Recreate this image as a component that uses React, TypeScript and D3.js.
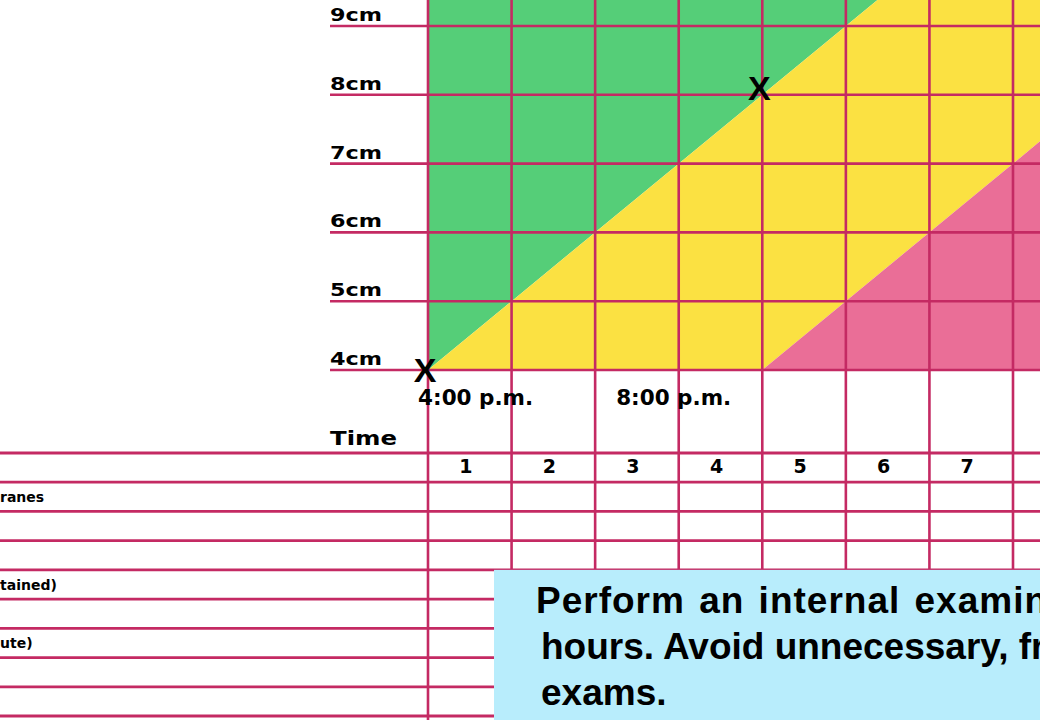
import React from "react";
import * as d3 from "d3";

const WIDTH = 1040;
const HEIGHT = 720;

// partograph data
const HOUR_GRID = [0, 1, 2, 3, 4, 5, 6, 7];
const HOUR_LABELS = ["1", "2", "3", "4", "5", "6", "7"];
const DILATION_CM = [4, 5, 6, 7, 8, 9];
const ALERT_LINE: [number, number][] = [[0, 4], [6, 10]];
const ACTION_LINE: [number, number][] = [[4, 4], [10, 10]];
const EXAM_HOURS = [0, 4];
const EXAM_CM = [4, 8.1];
const CLOCK_HOURS = [0.57, 2.94];
const CLOCK_LABELS = ["4:00 p.m.", "8:00 p.m."];
const ROW_LABELS = ["", "ranes", "", "", "tained)", "", "ute)", "", ""];
const NOTE_LINES = [
  "Perform an internal examination every 4",
  "hours. Avoid unnecessary, frequent",
  "exams.",
];

const GRID = "#c42a63";
const GREEN = "#55ce78";
const YELLOW = "#fbe142";
const PINK = "#ea6e97";
const NOTE_BG = "#b8edfc";

const App = () => {
  const x = d3.scaleLinear().domain([0, 7]).range([428, 1013]);
  const y = d3.scaleLinear().domain([4, 9]).range([370, 26]);
  const row = d3.scaleLinear().domain([0, 9]).range([453, 716]);

  const topCm = 10;
  const area = d3.line<[number, number]>().x((d) => x(d[0])).y((d) => y(d[1]));

  const [a0, a1] = ALERT_LINE;
  const [b0, b1] = ACTION_LINE;
  const greenPoly: [number, number][] = [a0, a1, [0, topCm]];
  const yellowPoly: [number, number][] = [a0, a1, b1, b0];
  const pinkPoly: [number, number][] = [b0, b1, [10, 4]];

  const labelFont = "'DejaVu Sans', sans-serif";

  return (
    <svg
      width={WIDTH}
      height={HEIGHT}
      style={{ position: "absolute", left: 0, top: 0, background: "#fff" }}
    >
      {/* zones */}
      <path d={area(greenPoly) + "Z"} fill={GREEN} />
      <path d={area(yellowPoly) + "Z"} fill={YELLOW} />
      <path d={area(pinkPoly) + "Z"} fill={PINK} />

      {/* dilation lines + labels */}
      {DILATION_CM.map((cm) => (
        <g key={cm}>
          <line x1={330} x2={WIDTH} y1={y(cm)} y2={y(cm)} stroke={GRID} strokeWidth={2.6} />
          <text
            x={330}
            y={y(cm) - 5}
            fontFamily={labelFont}
            fontWeight="bold"
            fontSize={17}
            textLength={52}
            lengthAdjust="spacingAndGlyphs"
          >
            {`${cm}cm`}
          </text>
        </g>
      ))}

      {/* table rows */}
      {d3.range(0, 10).map((r) => (
        <line key={r} x1={0} x2={WIDTH} y1={row(r)} y2={row(r)} stroke={GRID} strokeWidth={2.8} />
      ))}
      {ROW_LABELS.map((lab, i) =>
        lab ? (
          <text
            key={i}
            x={0}
            y={(row(i) + row(i + 1)) / 2 + 5}
            fontFamily={labelFont}
            fontWeight="bold"
            fontSize={14}
          >
            {lab}
          </text>
        ) : null
      )}

      {/* hour columns */}
      {HOUR_GRID.map((h) => (
        <line key={h} x1={x(h)} x2={x(h)} y1={0} y2={HEIGHT} stroke={GRID} strokeWidth={2.6} />
      ))}
      {HOUR_LABELS.map((lab, i) => (
        <text
          key={lab}
          x={(x(i) + x(i + 1)) / 2 - 4}
          y={473}
          textAnchor="middle"
          fontFamily={labelFont}
          fontWeight="bold"
          fontSize={19}
        >
          {lab}
        </text>
      ))}

      <text
        x={330}
        y={445}
        fontFamily={labelFont}
        fontWeight="bold"
        fontSize={19}
        textLength={67}
        lengthAdjust="spacingAndGlyphs"
      >
        Time
      </text>

      {CLOCK_LABELS.map((lab, i) => (
        <text
          key={lab}
          x={x(CLOCK_HOURS[i])}
          y={405}
          textAnchor="middle"
          fontFamily={labelFont}
          fontWeight="bold"
          fontSize={21.5}
        >
          {lab}
        </text>
      ))}

      {/* exam marks */}
      {EXAM_HOURS.map((h, i) => (
        <text
          key={i}
          x={x(h) - 3}
          y={y(EXAM_CM[i])}
          dy="0.36em"
          textAnchor="middle"
          fontFamily="'Liberation Sans', Arial, sans-serif"
          fontWeight="bold"
          fontSize={34}
        >
          X
        </text>
      ))}

      {/* note box */}
      <rect x={494} y={row(4)} width={WIDTH - 494} height={HEIGHT - row(4)} fill={NOTE_BG} />
      {NOTE_LINES.map((ln, i) => (
        <text
          key={i}
          x={i === 0 ? 536 : 541}
          y={613 + i * 46}
          fontFamily="'Liberation Sans', Arial, sans-serif"
          fontWeight="bold"
          fontSize={37}
          wordSpacing={i === 0 ? 3 : 0}
          letterSpacing={i === 0 ? 1 : 0}
        >
          {ln}
        </text>
      ))}
    </svg>
  );
};

export default App;
